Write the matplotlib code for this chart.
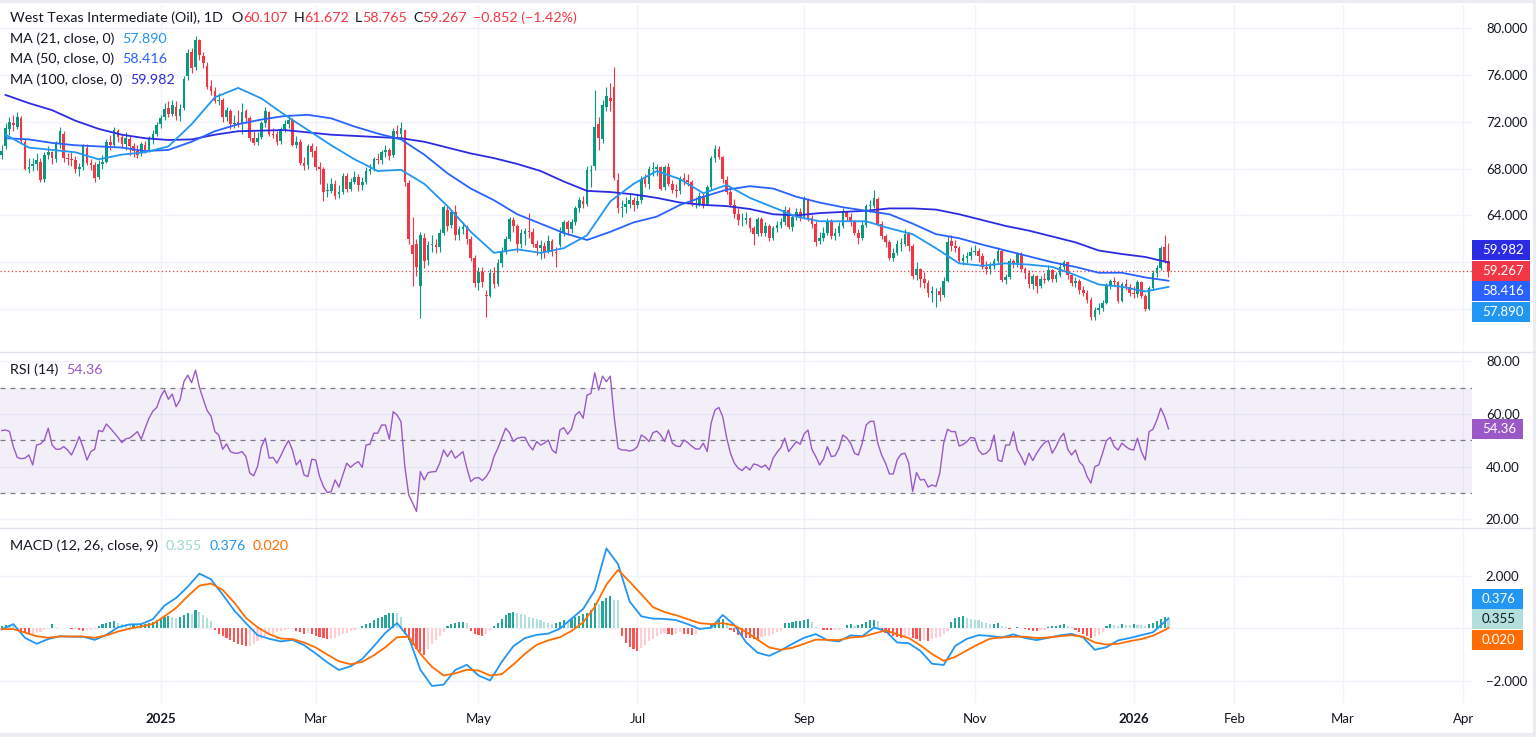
import numpy as np
import pandas as pd
import matplotlib
matplotlib.use("Agg")
import matplotlib.pyplot as plt
from matplotlib.patches import Rectangle
from matplotlib.lines import Line2D

# ---------- DATA ----------

holidays = ['2024-11-28', '2024-12-25', '2025-01-01', '2025-01-20', '2025-02-17',
            '2025-04-18', '2025-05-26', '2025-06-19', '2025-07-04', '2025-09-01',
            '2025-11-27', '2025-12-25', '2026-01-01']
dates = pd.bdate_range('2024-11-01', '2026-01-15', freq='C', holidays=holidays)

opens = [
    # Nov 2024
    69.2, 69.9, 71.4, 71.9, 71.6, 72.3, 70.3, 68.0, 68.2, 68.4, 68.6, 67.1, 69.2, 69.4, 68.8, 70.1, 71.0, 68.9, 68.8, 68.7,
    # Dec 2024
    68.0, 68.1, 69.8, 68.5, 68.3, 67.3, 68.4, 68.6, 70.3, 70.0, 71.2, 70.7, 70.1, 70.5, 69.9, 69.5, 69.3, 70.0, 69.6, 70.5, 71.0,
    # Jan 2025
    71.8, 72.4, 73.2, 72.7, 73.3, 72.5, 73.2, 75.9, 78.0, 76.7, 79.0, 77.6, 76.8, 75.1, 74.6, 73.8, 73.9, 72.4, 72.9, 71.8, 72.0,
    # Feb
    71.8, 72.9, 72.3, 70.6, 70.3, 70.7, 71.9, 72.8, 71.0, 71.0, 70.4, 71.4, 71.8, 72.2, 70.0, 70.3, 68.5, 68.3, 69.9,
    # Mar
    69.5, 68.1, 68.0, 66.1, 66.1, 66.7, 65.8, 66.0, 67.4, 66.3, 66.9, 67.3, 66.6, 66.9, 67.8, 68.0, 68.8, 68.7, 69.4, 69.6, 69.2,
    # Apr
    71.2, 71.0, 71.3, 66.8, 61.5, 61.6, 58.0, 62.1, 60.2, 61.5, 61.5, 61.3, 62.5, 64.5, 63.2, 64.3, 62.3, 62.8, 63.0, 62.0, 60.4,
    # May
    58.2, 59.2, 57.2, 57.1, 59.1, 58.1, 59.9, 61.0, 62.0, 63.6, 63.1, 61.6, 62.4, 62.7, 62.6, 61.6, 61.2, 61.4, 60.9, 61.8, 60.9,
    # Jun
    61.5, 62.5, 63.4, 62.8, 63.4, 64.6, 65.2, 65.0, 67.8, 68.2, 71.8, 70.5, 73.3, 74.0, 75.0, 67.0, 64.6, 64.7, 65.0, 65.3,
    # Jul
    64.9, 65.3, 67.1, 66.7, 68.0, 68.0, 68.1, 66.4, 68.1, 66.7, 66.2, 66.1, 67.2, 67.0, 66.9, 65.0, 65.0, 65.7, 65.0, 66.4, 68.9, 69.7,
    # Aug
    69.0, 67.0, 66.0, 64.9, 64.1, 63.6, 63.6, 63.8, 62.9, 62.4, 63.7, 62.5, 63.1, 62.1, 62.9, 63.2, 63.4, 64.5, 63.0, 63.9, 64.3,
    # Sep
    63.9, 65.4, 63.8, 63.3, 61.8, 62.1, 62.5, 63.5, 62.2, 62.5, 63.1, 64.3, 63.9, 63.4, 62.5, 62.1, 63.2, 64.8, 64.8, 65.4, 63.3,
    # Oct
    62.2, 61.7, 60.4, 60.8, 61.6, 61.6, 62.4, 61.4, 58.9, 59.4, 58.6, 58.2, 57.4, 57.5, 57.5, 57.2, 58.4, 61.8, 61.4, 61.2, 60.1, 60.4, 60.5,
    # Nov
    60.9, 61.0, 60.5, 59.6, 59.4, 59.7, 60.1, 61.0, 58.5, 58.7, 60.1, 59.9, 60.7, 59.4, 59.1, 58.1, 58.8, 58.0, 58.6,
    # Dec
    58.5, 59.3, 58.6, 58.9, 59.6, 60.0, 58.9, 58.2, 58.4, 57.6, 57.4, 56.8, 55.3, 55.9, 56.1, 56.5, 58.0, 58.4, 58.3, 56.7, 58.1, 57.9,
    # Jan 2026
    57.4, 57.3, 58.3, 57.1, 56.0, 57.8, 59.1, 59.5, 61.3, 60.107,
]

highs = [
    70.0, 71.9, 72.4, 72.6, 72.8, 72.5, 70.5, 68.9, 68.9, 69.3, 68.9, 69.4, 69.9, 69.5, 70.4, 71.6, 71.2, 69.3, 69.4, 69.1,
    68.5, 70.1, 70.1, 68.8, 68.6, 68.7, 69.2, 70.5, 70.9, 71.6, 71.4, 70.9, 71.1, 70.8, 70.2, 70.0, 70.3, 70.4, 70.8, 71.3, 72.0,
    72.6, 73.6, 73.8, 73.9, 73.8, 73.5, 75.9, 78.2, 78.3, 79.3, 79.1, 78.0, 77.1, 75.6, 75.0, 74.5, 74.0, 73.3, 73.1, 72.6, 73.0,
    73.6, 73.1, 72.5, 71.2, 71.1, 72.1, 73.3, 72.9, 71.5, 71.2, 71.6, 72.2, 72.6, 72.3, 70.8, 70.5, 69.0, 70.1, 70.2,
    69.9, 68.6, 68.1, 66.8, 67.2, 67.0, 66.6, 67.6, 67.6, 67.2, 67.8, 67.5, 67.3, 68.1, 68.4, 69.0, 69.3, 69.6, 70.0, 69.8, 71.5,
    71.7, 72.0, 71.4, 67.0, 63.9, 62.0, 62.6, 62.5, 61.8, 62.3, 62.0, 62.8, 64.9, 64.8, 64.5, 64.9, 63.1, 63.4, 63.2, 62.2, 60.6,
    59.6, 59.6, 57.6, 59.4, 59.6, 60.3, 61.3, 62.2, 63.9, 63.9, 63.3, 62.8, 62.9, 64.2, 62.9, 61.9, 61.9, 61.7, 62.3, 62.0, 61.3,
    63.0, 63.6, 63.6, 63.7, 64.8, 65.6, 65.7, 68.2, 68.3, 74.7, 72.4, 73.9, 75.0, 75.3, 76.7, 67.6, 65.3, 65.6, 65.8, 65.6,
    65.8, 67.4, 67.5, 68.2, 68.6, 68.4, 68.2, 68.3, 68.5, 67.0, 66.7, 67.4, 67.6, 67.5, 67.0, 65.6, 66.0, 65.9, 66.6, 69.1, 70.0, 69.9,
    69.1, 67.4, 66.5, 65.4, 64.6, 64.2, 64.3, 63.9, 63.1, 63.9, 63.9, 63.4, 63.3, 63.1, 63.5, 63.8, 64.8, 64.7, 64.1, 64.6, 64.6,
    65.7, 65.5, 64.0, 63.5, 62.6, 63.0, 63.8, 63.7, 62.9, 63.4, 64.6, 64.4, 64.2, 63.6, 62.8, 63.5, 65.0, 65.3, 66.2, 65.6, 63.5,
    62.4, 61.9, 61.2, 61.9, 62.1, 62.8, 62.6, 61.6, 60.0, 59.5, 59.2, 58.5, 58.0, 57.8, 57.9, 58.7, 62.2, 62.3, 61.9, 61.4, 60.7, 60.9, 61.3,
    61.5, 61.2, 60.8, 60.1, 60.0, 60.4, 61.3, 61.1, 59.0, 60.4, 60.3, 60.9, 60.9, 59.6, 59.3, 59.0, 58.9, 58.8, 59.1,
    59.8, 59.4, 59.2, 59.9, 60.2, 60.1, 59.1, 58.7, 58.6, 58.0, 57.6, 57.0, 56.2, 56.5, 56.8, 58.2, 58.6, 58.7, 58.4, 58.3, 58.6, 58.1,
    58.0, 58.5, 58.4, 57.3, 58.0, 59.3, 59.8, 61.4, 62.3, 61.672,
]

lows = [
    68.8, 69.7, 70.9, 71.2, 71.4, 70.2, 67.9, 67.6, 67.8, 67.9, 66.9, 66.9, 68.8, 68.4, 68.6, 69.8, 68.6, 68.3, 68.2, 67.6,
    67.4, 67.9, 68.3, 67.9, 66.9, 67.1, 68.0, 68.5, 69.6, 69.9, 70.3, 69.8, 69.6, 69.2, 69.0, 68.9, 69.1, 69.3, 69.4, 70.1, 70.8,
    71.5, 72.2, 72.4, 72.5, 72.2, 72.1, 73.0, 75.6, 76.2, 76.4, 77.3, 76.6, 74.8, 74.3, 73.6, 73.4, 72.0, 72.1, 71.4, 71.5, 71.6,
    71.0, 71.9, 70.4, 70.0, 70.0, 70.5, 71.6, 70.8, 70.6, 70.0, 70.1, 71.1, 71.5, 69.9, 69.8, 68.3, 67.9, 68.0, 69.0,
    67.9, 66.7, 65.2, 65.6, 65.9, 65.4, 65.5, 65.8, 66.0, 66.1, 66.7, 66.1, 66.2, 66.7, 67.5, 67.8, 68.4, 68.4, 69.0, 68.7, 69.0,
    70.6, 70.5, 66.5, 61.6, 58.0, 58.8, 55.2, 59.5, 59.8, 60.9, 60.8, 60.9, 62.3, 62.7, 62.9, 61.9, 61.9, 62.4, 61.6, 60.1, 57.9,
    57.6, 57.9, 55.3, 57.0, 57.8, 58.0, 59.6, 60.7, 61.8, 62.6, 60.9, 61.2, 61.5, 62.1, 61.3, 60.6, 60.3, 60.4, 60.8, 60.5, 59.6,
    61.3, 62.2, 62.3, 62.5, 63.2, 64.3, 64.6, 64.8, 66.4, 67.9, 69.6, 70.2, 72.9, 72.9, 67.0, 64.2, 63.9, 64.2, 64.6, 64.4,
    64.6, 65.1, 66.4, 66.3, 67.4, 67.4, 66.2, 66.2, 66.5, 65.9, 65.6, 65.8, 66.6, 66.5, 64.8, 64.6, 64.8, 64.6, 64.9, 66.2, 68.6, 68.8,
    66.8, 65.8, 64.7, 63.8, 63.2, 63.1, 63.3, 62.6, 61.5, 62.2, 62.2, 62.2, 61.8, 61.9, 62.6, 62.9, 63.2, 62.8, 62.7, 63.6, 63.5,
    63.7, 63.5, 62.9, 61.4, 61.6, 61.8, 62.3, 62.0, 61.9, 62.2, 62.9, 63.5, 63.1, 62.3, 61.6, 61.9, 63.0, 64.3, 64.6, 63.1, 62.0,
    61.3, 60.2, 60.1, 60.6, 61.0, 61.4, 61.0, 58.6, 58.5, 57.9, 57.8, 57.0, 56.6, 56.2, 56.7, 57.0, 58.3, 61.0, 60.9, 59.9, 59.8, 59.9, 60.2,
    60.6, 60.0, 59.4, 59.0, 59.0, 59.4, 59.9, 58.3, 58.1, 58.6, 59.5, 59.6, 59.2, 58.6, 57.8, 57.7, 57.4, 57.8, 58.2,
    58.4, 58.3, 58.3, 58.7, 59.3, 58.6, 58.0, 57.9, 57.3, 57.1, 56.5, 55.1, 55.1, 55.6, 55.8, 56.4, 57.7, 58.0, 56.5, 56.6, 57.6, 57.1,
    56.9, 57.0, 56.9, 55.8, 55.9, 57.6, 58.7, 59.3, 59.9, 58.765,
]

closes = [
    69.5, 71.5, 72.0, 71.7, 72.4, 70.4, 68.0, 68.1, 68.4, 68.7, 67.0, 69.2, 69.4, 68.9, 70.1, 71.2, 68.9, 68.8, 68.7, 68.0,
    68.1, 69.9, 68.5, 68.3, 67.2, 68.4, 68.6, 70.3, 70.0, 71.3, 70.7, 70.1, 70.6, 69.9, 69.5, 69.2, 70.1, 69.6, 70.6, 71.0, 71.7,
    72.3, 73.1, 72.7, 73.4, 72.5, 73.1, 75.7, 77.9, 76.6, 79.0, 77.7, 77.0, 75.0, 74.6, 73.8, 73.8, 72.4, 73.0, 71.8, 71.9, 71.7,
    72.8, 72.3, 70.6, 70.2, 70.6, 71.9, 72.9, 71.0, 70.9, 70.3, 71.4, 71.8, 72.2, 70.0, 70.3, 68.5, 68.2, 69.9, 69.4,
    68.1, 68.0, 66.0, 66.1, 66.7, 65.7, 66.0, 67.4, 66.3, 66.9, 67.3, 66.6, 66.9, 67.8, 68.0, 68.8, 68.7, 69.4, 69.6, 69.1, 71.2,
    71.0, 71.5, 66.9, 62.0, 60.7, 59.6, 62.3, 60.1, 61.5, 61.5, 61.3, 62.5, 64.7, 63.1, 64.3, 62.3, 62.8, 63.0, 62.0, 60.4, 58.2,
    59.2, 58.3, 57.1, 59.1, 58.1, 59.9, 61.0, 62.0, 63.7, 63.1, 61.6, 62.5, 62.7, 62.6, 61.6, 61.2, 61.5, 60.9, 61.8, 60.9, 60.8,
    62.5, 63.4, 62.8, 63.4, 64.6, 65.3, 65.0, 67.9, 67.8, 71.6, 70.6, 73.4, 74.2, 73.8, 67.2, 64.6, 64.7, 65.0, 65.3, 64.9,
    65.2, 67.1, 66.7, 68.0, 68.0, 68.1, 66.3, 68.1, 66.7, 66.2, 66.1, 67.2, 67.0, 66.9, 65.0, 65.0, 65.7, 64.9, 66.4, 68.9, 69.7, 69.0,
    67.1, 66.0, 64.9, 64.1, 63.6, 63.6, 63.8, 62.9, 62.4, 63.7, 62.5, 63.1, 62.1, 62.9, 63.2, 63.4, 64.5, 63.0, 63.9, 64.3, 63.8,
    65.4, 63.8, 63.3, 61.7, 62.1, 62.5, 63.5, 62.2, 62.5, 63.1, 64.3, 63.9, 63.4, 62.5, 62.1, 63.2, 64.8, 64.8, 65.5, 63.3, 62.2,
    61.7, 60.4, 60.8, 61.6, 61.6, 62.4, 61.4, 58.8, 59.4, 58.6, 58.2, 57.4, 57.5, 57.5, 57.2, 58.4, 61.7, 61.4, 61.2, 60.1, 60.4, 60.5, 60.9,
    61.0, 60.5, 59.6, 59.4, 59.7, 60.1, 61.0, 58.5, 58.7, 60.1, 59.9, 60.7, 59.4, 59.1, 58.1, 58.8, 58.0, 58.6, 58.5,
    59.3, 58.6, 58.9, 59.6, 60.0, 58.9, 58.2, 58.4, 57.6, 57.4, 56.8, 55.3, 55.9, 56.1, 56.5, 58.0, 58.4, 58.3, 56.7, 58.1, 57.9, 57.4,
    57.3, 58.3, 57.1, 56.0, 57.8, 59.1, 59.5, 61.2, 60.12, 59.267,
]

# moving averages, one reading every 6 bars (bars 1, 7, ..., 301)
ma_step = 6
ma21 = [70.9, 69.8, 69.6, 69.4, 68.8, 69.2, 69.4, 69.9, 71.8, 74.1,
        74.9, 74.0, 72.6, 71.3, 70.0, 68.8, 67.8, 67.9, 66.7, 64.8,
        62.6, 60.8, 61.1, 60.8, 61.2, 62.3, 65.2, 66.7, 67.8, 67.1,
        65.9, 66.6, 65.5, 64.7, 63.9, 63.5, 63.5, 63.5, 62.9, 62.4,
        61.2, 59.9, 59.7, 59.9, 59.8, 59.6, 58.9, 58.1, 57.9, 57.5, 57.890]
ma50 = [70.6, 70.5, 70.2, 70.0, 69.9, 69.8, 69.5, 69.6, 70.3, 71.2,
        71.8, 72.2, 72.5, 72.6, 72.3, 71.6, 71.0, 70.5, 69.2, 67.6,
        66.3, 65.3, 64.1, 63.3, 62.5, 61.9, 62.6, 63.4, 63.9, 64.9,
        65.6, 66.2, 66.5, 66.3, 65.6, 65.1, 64.7, 64.4, 64.1, 63.3,
        62.4, 62.05, 61.5, 61.0, 60.5, 60.0, 59.6, 59.1, 59.1, 58.7, 58.416]
ma100 = [74.3, 73.6, 73.0, 72.1, 71.4, 70.9, 70.6, 70.45, 70.5, 70.9,
         71.2, 71.25, 71.3, 71.1, 70.9, 70.8, 70.7, 70.6, 70.3, 69.8,
         69.3, 68.9, 68.4, 67.8, 66.9, 66.1, 66.0, 65.8, 65.5, 65.1,
         64.9, 64.8, 64.55, 64.1, 64.0, 64.2, 64.3, 64.4, 64.6, 64.6,
         64.5, 64.1, 63.6, 63.1, 62.7, 62.2, 61.7, 61.0, 60.7, 60.45, 59.982]

rsi = [53.7, 53.9, 53.4, 47.6, 43.5, 43.0, 43.2, 44.4, 40.6, 48.2,
       48.6, 50.1, 54.6, 48.2, 46.6, 46.6, 47.6, 46.3, 44.4, 47.6,
       51.4, 47.3, 42.5, 45.7, 46.6, 53.7, 53.3, 56.2, 54.6, 52.9,
       51.1, 49.1, 50.6, 50.8, 52.0, 53.3, 50.4, 54.6, 58.4, 61.1,
       62.5, 66.6, 69.1, 65.6, 67.6, 62.8, 65.3, 72.3, 74.8, 71.9,
       76.7, 70.1, 65.6, 61.3, 59.2, 53.3, 52.0, 46.6, 48.6, 45.7,
       45.1, 45.1, 45.7, 43.8, 37.5, 36.5, 40.0, 47.6, 50.8, 43.2,
       43.5, 41.3, 44.1, 47.3, 49.9, 46.3, 40.6, 42.5, 36.8, 36.2,
       42.8, 42.5, 36.2, 32.4, 30.1, 30.5, 34.9, 32.2, 36.8, 41.3,
       39.7, 41.0, 41.9, 39.7, 48.2, 48.5, 52.7, 52.7, 55.8, 55.8,
       50.4, 60.9, 59.6, 57.1, 40.0, 29.2, 26.1, 22.9, 38.1, 34.9,
       37.7, 38.0, 38.1, 41.3, 46.3, 43.8, 46.1, 43.2, 44.4, 45.7,
       39.4, 34.3, 35.6, 35.8, 34.7, 36.2, 38.7, 43.8, 47.0, 50.8,
       54.6, 52.9, 49.5, 50.8, 51.1, 51.1, 48.2, 46.3, 49.5, 48.2,
       48.9, 50.1, 46.3, 45.1, 53.9, 54.8, 52.3, 54.3, 59.6, 60.9,
       58.4, 67.2, 67.8, 75.7, 69.1, 74.4, 72.3, 74.4, 59.0, 47.0,
       46.3, 46.3, 45.9, 46.3, 47.6, 52.0, 51.1, 49.5, 52.9, 53.5,
       52.0, 49.5, 53.9, 48.9, 47.8, 47.6, 50.1, 49.1, 47.8, 46.7,
       46.7, 48.9, 45.7, 56.5, 61.5, 62.5, 59.0, 51.1, 45.1, 41.3,
       39.4, 38.5, 40.0, 38.7, 41.0, 40.6, 39.7, 40.6, 38.7, 43.2,
       45.4, 47.2, 50.8, 45.7, 47.6, 49.5, 48.5, 52.4, 53.9, 46.6,
       43.8, 40.6, 42.8, 47.6, 43.8, 44.1, 47.0, 52.0, 50.9, 48.9,
       45.1, 44.4, 48.9, 55.8, 57.2, 57.2, 48.9, 44.4, 41.3, 37.2,
       37.2, 42.5, 44.7, 45.1, 41.3, 30.5, 37.7, 34.9, 35.1, 32.2,
       33.0, 32.4, 37.5, 48.9, 54.2, 53.3, 53.3, 47.8, 48.4, 49.5,
       51.1, 50.8, 46.3, 44.6, 45.1, 46.6, 52.0, 42.5, 41.9, 48.2,
       48.2, 53.3, 46.3, 43.8, 40.6, 45.1, 42.3, 45.1, 47.3, 49.1,
       49.9, 45.1, 47.6, 50.8, 52.7, 46.6, 44.4, 46.3, 41.9, 40.3,
       36.2, 33.7, 40.0, 40.6, 45.1, 49.9, 51.1, 47.6, 46.3, 48.9,
       47.6, 46.6, 46.3, 50.8, 45.7, 42.5, 53.3, 54.2, 57.7, 62.2,
       59.0, 54.36]

# MACD and signal, one reading every 3 bars plus the last bar
macd_step = 3
macd_line = [-0.04, 0.16, -0.36, -0.59, -0.41, -0.30, -0.32, -0.32, -0.44, -0.25,
             0.04, 0.15, 0.16, 0.35, 0.87, 1.16, 1.59, 2.09, 1.87, 1.29,
             0.68, 0.20, -0.26, -0.40, -0.50, -0.44, -0.64, -0.96, -1.30, -1.59,
             -1.45, -1.17, -0.68, -0.17, 0.20, -0.35, -1.58, -2.20, -2.15, -1.59,
             -1.39, -1.80, -1.99, -1.28, -0.68, -0.37, -0.25, -0.20, -0.01, 0.37,
             0.74, 1.45, 3.05, 2.45, 1.02, 0.46, 0.37, 0.36, 0.31, 0.16,
             -0.02, 0.02, 0.51, 0.13, -0.53, -0.93, -1.05, -0.84, -0.59, -0.36,
             -0.22, -0.45, -0.50, -0.27, -0.30, 0.03, -0.10, -0.54, -0.57, -0.86,
             -1.35, -1.40, -0.67, -0.40, -0.26, -0.29, -0.35, -0.23, -0.37, -0.45,
             -0.36, -0.27, -0.21, -0.35, -0.82, -0.72, -0.46, -0.37, -0.26, -0.15,
             0.25, 0.376]
signal_line = [-0.03, -0.03, -0.16, -0.30, -0.36, -0.31, -0.31, -0.31, -0.36, -0.27,
               -0.12, -0.01, 0.07, 0.17, 0.46, 0.78, 1.23, 1.63, 1.71, 1.47,
               0.98, 0.40, 0.04, -0.22, -0.39, -0.41, -0.54, -0.73, -1.00, -1.26,
               -1.37, -1.28, -1.03, -0.72, -0.34, -0.32, -0.97, -1.47, -1.80, -1.72,
               -1.58, -1.61, -1.80, -1.75, -1.38, -0.97, -0.63, -0.46, -0.34, -0.10,
               0.23, 0.82, 1.67, 2.23, 1.78, 1.30, 0.81, 0.62, 0.50, 0.35,
               0.20, 0.16, 0.20, 0.11, -0.13, -0.43, -0.73, -0.82, -0.74, -0.59,
               -0.43, -0.44, -0.45, -0.35, -0.32, -0.20, -0.08, -0.23, -0.37, -0.65,
               -0.98, -1.24, -1.09, -0.84, -0.60, -0.39, -0.35, -0.32, -0.32, -0.37,
               -0.35, -0.30, -0.26, -0.32, -0.54, -0.62, -0.59, -0.49, -0.41, -0.28,
               -0.07, 0.020]
hist = [0.10, 0.14, 0.12, 0.08, -0.05, -0.12, -0.18, -0.22, -0.20, -0.18,
        -0.14, -0.08, -0.03, 0.18, 0.05, 0.03, 0.02, 0.01, -0.02, -0.01,
        -0.05, -0.10, -0.08, -0.06, -0.03, 0.08, 0.15, 0.20, 0.26, 0.28,
        0.22, 0.17, 0.15, 0.14, 0.15, 0.13, 0.14, 0.15, 0.20, 0.26,
        0.30, 0.35, 0.42, 0.48, 0.44, 0.40, 0.45, 0.50, 0.58, 0.55,
        0.69, 0.62, 0.50, 0.40, 0.28, -0.05, -0.20, -0.30, -0.38, -0.45,
        -0.52, -0.58, -0.62, -0.67, -0.66, -0.60, -0.48, -0.40, -0.32, -0.25,
        -0.20, -0.15, -0.10, -0.06, -0.03, 0.02, -0.10, -0.15, -0.20, -0.17,
        -0.22, -0.30, -0.33, -0.38, -0.41, -0.40, -0.36, -0.30, -0.22, -0.16,
        -0.10, -0.05, 0.02, 0.08, 0.15, 0.22, 0.30, 0.38, 0.45, 0.52,
        0.58, 0.60, 0.60, 0.45, -0.20, -0.45, -0.65, -0.80, -0.92, -1.00,
        -0.78, -0.60, -0.45, -0.30, -0.15, 0.10, 0.15, 0.20, 0.24, 0.26,
        0.20, -0.10, -0.20, -0.26, -0.28, -0.20, -0.08, 0.10, 0.20, 0.35,
        0.50, 0.60, 0.64, 0.60, 0.55, 0.50, 0.45, 0.40, 0.34, 0.30,
        0.25, 0.22, 0.18, 0.20, 0.25, 0.30, 0.28, 0.35, 0.42, 0.48,
        0.55, 0.60, 0.70, 0.95, 0.92, 1.05, 1.15, 1.24, 1.10, 1.08,
        -0.30, -0.55, -0.70, -0.80, -0.85, -0.75, -0.62, -0.50, -0.40, -0.30,
        -0.22, -0.18, -0.22, -0.25, -0.20, -0.15, -0.20, -0.22, -0.25, -0.20,
        -0.08, -0.03, 0.02, 0.12, 0.22, 0.30, 0.35, 0.20, -0.05, -0.15,
        -0.25, -0.32, -0.36, -0.38, -0.40, -0.40, -0.34, -0.30, -0.28, -0.22,
        -0.15, -0.10, 0.20, 0.22, 0.25, 0.27, 0.28, 0.30, 0.35, 0.24,
        0.05, 0.02, -0.05, -0.06, -0.07, -0.06, -0.05, 0.00, 0.12, 0.15,
        0.10, 0.14, 0.15, 0.25, 0.30, 0.32, 0.28, -0.10, -0.18, -0.25,
        -0.30, -0.32, -0.35, -0.30, -0.28, -0.35, -0.42, -0.47, -0.45, -0.47,
        -0.42, -0.38, -0.32, -0.20, -0.10, 0.25, 0.40, 0.45, 0.48, 0.40,
        0.35, 0.32, 0.30, 0.25, 0.20, 0.15, 0.18, 0.20, 0.10, 0.05,
        -0.03, 0.03, 0.05, 0.02, -0.03, -0.08, -0.10, -0.12, -0.08, -0.05,
        0.05, 0.08, 0.10, 0.12, 0.15, 0.10, 0.05, -0.05, -0.15, -0.20,
        -0.28, -0.35, -0.32, -0.25, -0.15, 0.10, 0.15, 0.14, 0.10, 0.15,
        0.14, 0.12, 0.15, 0.13, 0.12, 0.10, 0.18, 0.22, 0.28, 0.35,
        0.42, 0.355]

n = len(dates)
for arr in (opens, highs, lows, closes, rsi, hist):
    assert len(arr) == n, (len(arr), n)

# ---------- STYLE ----------

W, H, DPI = 1536, 737, 100
UP, DOWN = '#089981', '#F23645'
MA21_C, MA50_C, MA100_C = '#2196F3', '#2962FF', '#2B2BE3'
RSI_C = '#9B59C8'
MACD_C, SIG_C = '#2196F3', '#FF6D00'
TEXT = '#131722'
GRID = '#F0F3FA'
SEP = '#E0E3EB'
FRAME = '#EBEDF2'
plt.rcParams['font.family'] = ['Lato', 'DejaVu Sans']


def fx(px):
    return px / W


def fy(px):
    return 1 - px / H


fig = plt.figure(figsize=(W / DPI, H / DPI), dpi=DPI)
fig.patch.set_facecolor('white')

PR = 1472  # right edge of plotting area
ax_p = fig.add_axes([0, fy(351), PR / W, (351 - 5) / H])
ax_r = fig.add_axes([0, fy(527), PR / W, (527 - 352) / H], sharex=ax_p)
ax_m = fig.add_axes([0, fy(703), PR / W, (703 - 528) / H], sharex=ax_p)

xs = np.arange(n)
o, hi, lo, c = map(np.array, (opens, highs, lows, closes))

# ---------- PRICE PANEL ----------
col = np.where(c >= o, UP, DOWN)
ax_p.vlines(xs, lo, hi, colors=col, linewidth=0.8, zorder=3)
ax_p.bar(xs, np.maximum(np.abs(c - o), 0.05), bottom=np.minimum(o, c), width=0.68,
         color=col, linewidth=0, zorder=4)
ma_x = np.arange(1, n, ma_step)
ax_p.plot(ma_x, ma100, color=MA100_C, lw=1.3, zorder=5)
ax_p.plot(ma_x, ma50, color=MA50_C, lw=1.3, zorder=5)
ax_p.plot(ma_x, ma21, color=MA21_C, lw=1.3, zorder=5)
ax_p.axhline(closes[-1], color=DOWN, lw=0.9, ls=(0, (1, 2)), zorder=2)
ax_p.set_ylim(52.41, 81.99)
# 56 and 60 sit under the value boxes, so only their grid lines show
ax_p.set_yticks([56, 60, 64, 68, 72, 76, 80])
ax_p.set_yticklabels(['', '', '64.000', '68.000', '72.000', '76.000', '80.000'])

# ---------- RSI PANEL ----------
ax_r.axhspan(30, 70, color='#7E57C2', alpha=0.09, lw=0, zorder=1)
for lvl in (70, 50, 30):
    ax_r.axhline(lvl, color='#787B86', lw=0.9, ls=(0, (4, 4)), zorder=2)
ax_r.plot(xs, rsi, color=RSI_C, lw=1.0, zorder=3)
ax_r.set_ylim(17.0, 83.6)
ax_r.set_yticks([20, 40, 60, 80])
ax_r.set_yticklabels(['20.00', '40.00', '60.00', '80.00'])

# ---------- MACD PANEL ----------
hist_colors = []
prev = 0.0
for hv in hist:
    if hv >= 0:
        hist_colors.append('#26A69A' if hv > prev else '#B2DFDB')
    else:
        hist_colors.append('#FFCDD2' if hv > prev else '#FF5252')
    prev = hv
ax_m.bar(xs, hist, width=0.55, color=hist_colors, linewidth=0, zorder=2)
m_x = np.r_[np.arange(0, n - 1, macd_step), n - 1]
ax_m.plot(m_x, macd_line, color=MACD_C, lw=1.3, zorder=3)
ax_m.plot(m_x, signal_line, color=SIG_C, lw=1.3, zorder=3)
ax_m.set_ylim(-2.85, 3.83)
ax_m.set_yticks([-2, 0, 2])
ax_m.set_yticklabels(['\u22122.000', '', '2.000'])

# ---------- X AXIS ----------
tick_pos, tick_lab = [], []
for k in range(1, n):
    if dates[k].month != dates[k - 1].month and dates[k].month % 2 == 1:
        tick_pos.append(k)
        tick_lab.append(str(dates[k].year) if dates[k].month == 1 else dates[k].strftime('%b'))
for m in ['2026-02-01', '2026-03-01', '2026-04-01']:
    d = pd.Timestamp(m)
    tick_pos.append(n - 1 + (d - dates[-1]).days)
    tick_lab.append(d.strftime('%b'))

for ax in (ax_p, ax_r, ax_m):
    ax.set_facecolor('none')
    ax.set_xlim(-0.44, 379.3)
    for s in ax.spines.values():
        s.set_visible(False)
    ax.yaxis.tick_right()
    ax.tick_params(axis='y', length=0, pad=10, labelsize=9.5, labelcolor=TEXT)
    ax.tick_params(axis='x', length=0)
    ax.set_axisbelow(True)
    ax.grid(True, color=GRID, lw=1)
ax_m.set_xticks(tick_pos)
ax_m.set_xticklabels(tick_lab)
ax_m.tick_params(axis='x', pad=7, labelsize=9.5, labelcolor=TEXT)
for t in ax_m.get_xticklabels():
    if t.get_text().isdigit():
        t.set_fontweight('bold')
ax_p.tick_params(axis='x', labelbottom=False)
ax_r.tick_params(axis='x', labelbottom=False)

# panel separators and the light frame on top, right and bottom
for ypx in (351.5, 527.5):
    fig.add_artist(Line2D([0, 1], [fy(ypx)] * 2, transform=fig.transFigure, color=SEP, lw=1))
fig.add_artist(Rectangle((0, fy(3)), 1, 3 / H, transform=fig.transFigure, fc=FRAME, ec='none'))
fig.add_artist(Rectangle((0, 0), 1, 4 / H, transform=fig.transFigure, fc=FRAME, ec='none'))
fig.add_artist(Rectangle((fx(1533), 0), 3 / W, 1, transform=fig.transFigure, fc=FRAME, ec='none'))

# ---------- LEGENDS ----------
renderer = fig.canvas.get_renderer()
probe = fig.text(0, 0, 'West Texas Intermediate (Oil), 1D', fontsize=10)
fs = 10 * 213 / probe.get_window_extent(renderer).width
probe.remove()


def write_row(x, y, pieces):
    for s, color, gap in pieces:
        t = fig.text(fx(x), fy(y), s, color=color, fontsize=fs, ha='left', va='center')
        x += t.get_window_extent(renderer).width + gap


write_row(10, 18, [('West Texas Intermediate (Oil), 1D', TEXT, 9),
                   ('O', TEXT, 0), ('%.3f' % opens[-1], DOWN, 6),
                   ('H', TEXT, 0), ('%.3f' % highs[-1], DOWN, 6),
                   ('L', TEXT, 0), ('%.3f' % lows[-1], DOWN, 6),
                   ('C', TEXT, 0), ('%.3f' % closes[-1], DOWN, 6),
                   ('\u22120.852 (\u22121.42%)', DOWN, 0)])
write_row(10, 39, [('MA (21, close, 0)', TEXT, 8), ('%.3f' % ma21[-1], MA21_C, 0)])
write_row(10, 59, [('MA (50, close, 0)', TEXT, 8), ('%.3f' % ma50[-1], MA50_C, 0)])
write_row(10, 80, [('MA (100, close, 0)', TEXT, 8), ('%.3f' % ma100[-1], MA100_C, 0)])
write_row(10, 370, [('RSI (14)', TEXT, 8), ('%.2f' % rsi[-1], RSI_C, 0)])
write_row(10, 546, [('MACD (12, 26, close, 9)', TEXT, 8), ('%.3f' % hist[-1], '#9ED6CB', 7),
                    ('%.3f' % macd_line[-1], MACD_C, 7), ('%.3f' % signal_line[-1], SIG_C, 0)])


# ---------- VALUE BOXES ON THE SCALE ----------
def value_boxes(ax, items, anchor, width):
    ya = H - ax.transData.transform((0, items[anchor][0]))[1]
    for k, (v, s, bg, fg) in enumerate(items):
        yc = ya + (k - anchor) * 20.5
        fig.add_artist(Rectangle((fx(PR), fy(yc + 10)), width / W, 20 / H,
                                 transform=fig.transFigure, fc=bg, ec='none', zorder=10))
        fig.text(fx(1482), fy(yc), s, color=fg, fontsize=9.5, ha='left', va='center', zorder=11)


value_boxes(ax_p, [(ma100[-1], '%.3f' % ma100[-1], MA100_C, 'white'),
                   (closes[-1], '%.3f' % closes[-1], DOWN, 'white'),
                   (ma50[-1], '%.3f' % ma50[-1], MA50_C, 'white'),
                   (ma21[-1], '%.3f' % ma21[-1], MA21_C, 'white')], 1, 58)
value_boxes(ax_r, [(rsi[-1], '%.2f' % rsi[-1], RSI_C, 'white')], 0, 51)
value_boxes(ax_m, [(macd_line[-1], '%.3f' % macd_line[-1], MACD_C, 'white'),
                   (hist[-1], '%.3f' % hist[-1], '#B2DFDB', TEXT),
                   (signal_line[-1], '%.3f' % signal_line[-1], SIG_C, 'white')], 1, 51)

fig.savefig('out.png', dpi=DPI)
